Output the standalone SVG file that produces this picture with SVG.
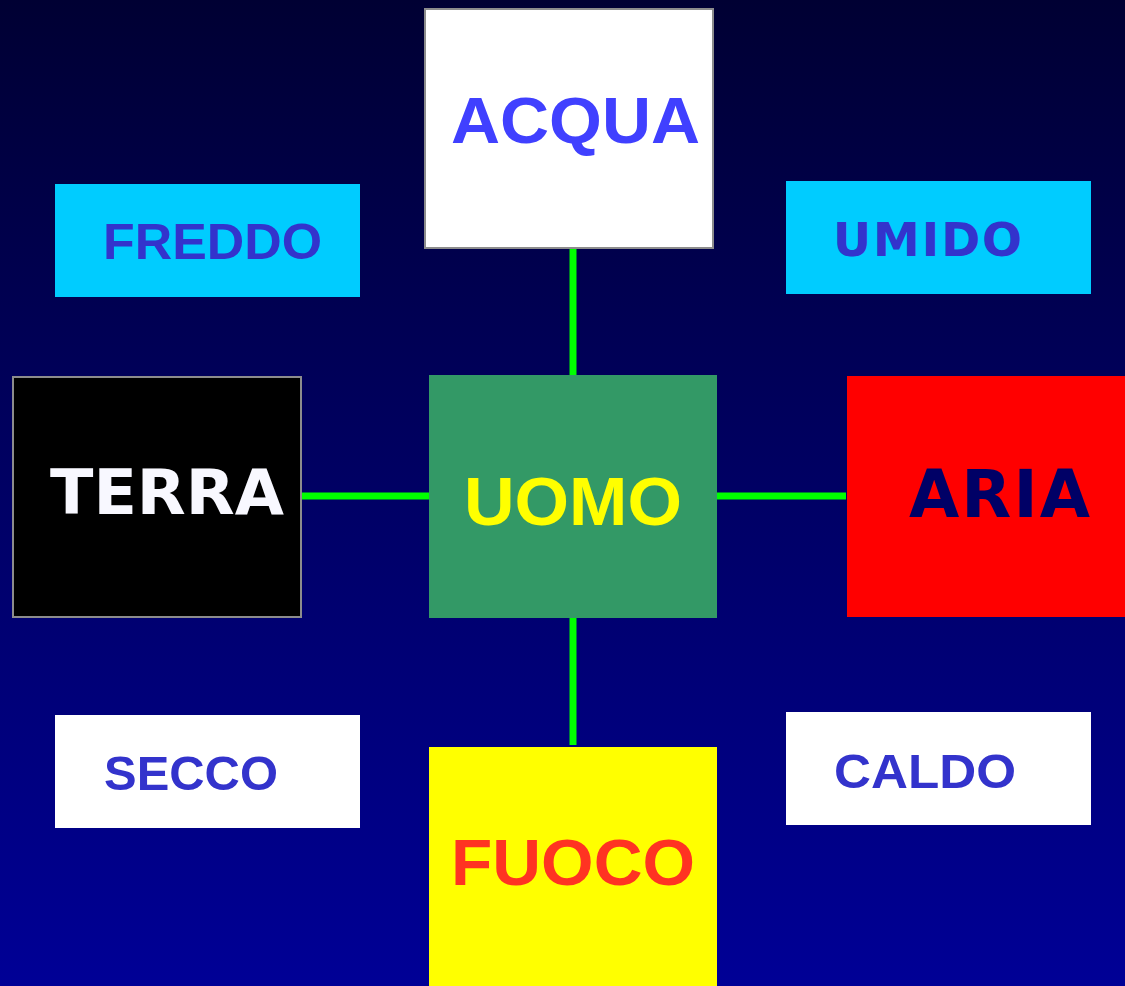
<svg xmlns="http://www.w3.org/2000/svg" width="1125" height="986" viewBox="0 0 1125 986">
<defs>
<linearGradient id="bg" x1="0" y1="0" x2="0" y2="1">
<stop offset="0" stop-color="#000033"/>
<stop offset="1" stop-color="#000096"/>
</linearGradient>
<style>
.t{font-family:"Liberation Sans",Arial,sans-serif;font-weight:bold}
.d{font-family:"DejaVu Sans",Verdana,sans-serif;font-weight:bold}
.bord{stroke:#8c8c8c;stroke-width:2}
.conn{stroke:#00ff00;stroke-width:7;fill:none}
</style>
</defs>
<rect x="0" y="0" width="1125" height="986" fill="url(#bg)"/>
<g id="connectors">
<line class="conn" x1="573" y1="248" x2="573" y2="376"/>
<line class="conn" x1="573" y1="618" x2="573" y2="745"/>
<line class="conn" x1="301" y1="496" x2="430" y2="496"/>
<line class="conn" x1="717" y1="496" x2="846" y2="496"/>
</g>
<g id="acqua">
<rect class="bord" x="425" y="9" width="288" height="239" fill="#ffffff"/>
<text class="t" x="451" y="143" font-size="65" fill="#4040ff" textLength="249" lengthAdjust="spacingAndGlyphs">ACQUA</text>
</g>
<g id="freddo">
<rect x="55" y="184" width="305" height="113" fill="#00ccff"/>
<text class="t" x="103" y="259" font-size="50" fill="#3333cc" textLength="219" lengthAdjust="spacingAndGlyphs">FREDDO</text>
</g>
<g id="umido">
<rect x="786" y="181" width="305" height="113" fill="#00ccff"/>
<text class="d" x="833" y="256" font-size="47" fill="#3333cc" textLength="189" lengthAdjust="spacing">UMIDO</text>
</g>
<g id="terra">
<rect class="bord" x="13" y="377" width="288" height="240" fill="#000000"/>
<text class="d" x="50" y="514" font-size="63" fill="#f8f8ff" textLength="234" lengthAdjust="spacingAndGlyphs">TERRA</text>
</g>
<g id="uomo">
<rect x="429" y="375" width="288" height="243" fill="#339966"/>
<text class="t" x="464" y="525" font-size="69" fill="#ffff00" textLength="218" lengthAdjust="spacingAndGlyphs">UOMO</text>
</g>
<g id="aria">
<rect x="847" y="376" width="280" height="241" fill="#ff0000"/>
<text class="d" x="909" y="517" font-size="65" fill="#000066" textLength="181" lengthAdjust="spacing">ARIA</text>
</g>
<g id="secco">
<rect x="55" y="715" width="305" height="113" fill="#ffffff"/>
<text class="t" x="104" y="790" font-size="49" fill="#3333cc" textLength="174" lengthAdjust="spacingAndGlyphs">SECCO</text>
</g>
<g id="caldo">
<rect x="786" y="712" width="305" height="113" fill="#ffffff"/>
<text class="t" x="834" y="788" font-size="49" fill="#3333cc" textLength="182" lengthAdjust="spacingAndGlyphs">CALDO</text>
</g>
<g id="fuoco">
<rect x="429" y="747" width="288" height="240" fill="#ffff00"/>
<text class="t" x="451" y="885" font-size="65" fill="#ff3322" textLength="244" lengthAdjust="spacingAndGlyphs">FUOCO</text>
</g>
</svg>
